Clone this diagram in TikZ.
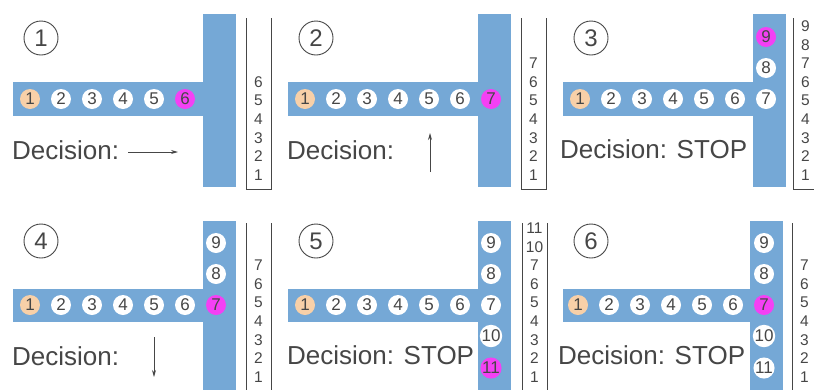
\documentclass[tikz,border=0pt]{standalone}
\usepackage{fontspec}
\setmainfont{Liberation Sans}
\usepackage{tikz}
\usetikzlibrary{arrows.meta}

\definecolor{barblue}{RGB}{117,168,214}
\definecolor{startpeach}{RGB}{248,208,168}
\definecolor{curmagenta}{RGB}{244,64,244}
\definecolor{txtgray}{RGB}{70,70,70}

\begin{document}
\begin{tikzpicture}[x=1pt, y=-1pt,
  ball/.style={circle, fill=white, minimum size=20pt, inner sep=0pt, text=txtgray, font=\fontsize{17}{17}\selectfont},
  start/.style={ball, fill=startpeach},
  current/.style={ball, fill=curmagenta},
  tag/.style={circle, draw=txtgray, line width=0.9pt, minimum size=34pt, inner sep=0pt, text=txtgray, font=\fontsize{24}{24}\selectfont},
  decision/.style={anchor=base west, inner sep=0pt, text=txtgray, font=\fontsize{26}{26}\selectfont},
  stacknum/.style={inner sep=0pt, text=txtgray, font=\fontsize{15.5}{15.5}\selectfont},
  stackline/.style={draw=txtgray, line width=1pt},
  move/.style={-{Stealth[length=7pt,width=4pt]}, draw=txtgray, line width=0.8pt}]
\clip (0,0) rectangle (814,389);

% panel 1
\begin{scope}[name prefix=p1-]
\fill[barblue] (13,82) rectangle (203,116);
\fill[barblue] (203,14) rectangle (236,187);
\node[tag] (tag) at (41,38) {1};
\node[start] (b1) at (30,99) {1};
\foreach \i in {2,...,5}
  \node[ball] (b\i) at ({30+31*(\i-1)},99) {\i};
\node[current] (b6) at (185,99) {6};
\node[decision] (dec) at (12,159) {Decision:};
\coordinate (mfrom) at (128,152);
\coordinate (mto) at (178,152);
\draw[move] (mfrom) -- (mto);
\draw[stackline] (246,18) -- (246,189) -- (271,189) -- (271,18);
\foreach \n in {1,...,6}
  \node[stacknum] (s\n) at (258.5,{175-18.6*(\n-1)}) {\n};
\end{scope}

% panel 2
\begin{scope}[shift={(275,0)}, name prefix=p2-]
\fill[barblue] (13,82) rectangle (203,116);
\fill[barblue] (203,14) rectangle (236,187);
\node[tag] (tag) at (41,38) {2};
\node[start] (b1) at (30,99) {1};
\foreach \i in {2,...,6}
  \node[ball] (b\i) at ({30+31*(\i-1)},99) {\i};
\node[current] (b7) at (216,99) {7};
\node[decision] (dec) at (12,159) {Decision:};
\coordinate (mfrom) at (155,172);
\coordinate (mto) at (155,133);
\draw[move] (mfrom) -- (mto);
\draw[stackline] (246,18) -- (246,189) -- (271,189) -- (271,18);
\foreach \n in {1,...,7}
  \node[stacknum] (s\n) at (258.5,{175-18.6*(\n-1)}) {\n};
\end{scope}

% panel 3
\begin{scope}[shift={(550,0)}, name prefix=p3-]
\fill[barblue] (13,82) rectangle (203,116);
\fill[barblue] (203,14) rectangle (236,187);
\node[tag] (tag) at (41,38) {3};
\node[start] (b1) at (30,99) {1};
\foreach \i in {2,...,7}
  \node[ball] (b\i) at ({30+31*(\i-1)},99) {\i};
\node[ball] (b8) at (216,68) {8};
\node[current] (b9) at (216,37) {9};
\node[decision] (dec) at (10,158) {Decision: STOP};
\draw[stackline] (243,18) -- (243,189) -- (268,189) -- (268,18);
\foreach \n in {1,...,9}
  \node[stacknum] (s\n) at (255.5,{175-18.6*(\n-1)}) {\n};
\end{scope}

% panel 4
\begin{scope}[shift={(0,205)}, name prefix=p4-]
\fill[barblue] (13,84) rectangle (203,117);
\fill[barblue] (203,16) rectangle (236,200);
\node[tag] (tag) at (41,36) {4};
\node[start] (b1) at (30,100) {1};
\foreach \i in {2,...,6}
  \node[ball] (b\i) at ({30+31*(\i-1)},100) {\i};
\node[current] (b7) at (216,100) {7};
\node[ball] (b8) at (216,69) {8};
\node[ball] (b9) at (216,38) {9};
\node[decision] (dec) at (12,160) {Decision:};
\coordinate (mfrom) at (154,132);
\coordinate (mto) at (154,172);
\draw[move] (mfrom) -- (mto);
\draw[stackline] (246,18) -- (246,200);
\draw[stackline] (271,18) -- (271,200);
\foreach \n in {1,...,7}
  \node[stacknum] (s\n) at (258.5,{172-18.6*(\n-1)}) {\n};
\end{scope}

% panel 5
\begin{scope}[shift={(275,205)}, name prefix=p5-]
\fill[barblue] (13,84) rectangle (203,117);
\fill[barblue] (203,16) rectangle (236,200);
\node[tag] (tag) at (41,36) {5};
\node[start] (b1) at (30,100) {1};
\foreach \i in {2,...,7}
  \node[ball] (b\i) at ({30+31*(\i-1)},100) {\i};
\node[ball] (b8) at (216,69) {8};
\node[ball] (b9) at (216,38) {9};
\node[ball] (b10) at (216,131) {10};
\node[current] (b11) at (216,163) {11};
\node[decision] (dec) at (12,159) {Decision: STOP};
\draw[stackline] (247,18) -- (247,200);
\draw[stackline] (272,18) -- (272,200);
\foreach \n [count=\k] in {1,...,7,10,11}
  \node[stacknum] (s\n) at (259.5,{172-18.6*(\k-1)}) {\n};
\end{scope}

% panel 6
\begin{scope}[shift={(550,205)}, name prefix=p6-]
\fill[barblue] (13,84) rectangle (200,117);
\fill[barblue] (200,16) rectangle (233,200);
\node[tag] (tag) at (41,36) {6};
\node[start] (b1) at (28,100) {1};
\foreach \i in {2,...,6}
  \node[ball] (b\i) at ({28+31*(\i-1)},100) {\i};
\node[current] (b7) at (214,100) {7};
\node[ball] (b8) at (214,69) {8};
\node[ball] (b9) at (214,38) {9};
\node[ball] (b10) at (214,131) {10};
\node[ball] (b11) at (214,163) {11};
\node[decision] (dec) at (8,159) {Decision: STOP};
\draw[stackline] (242,18) -- (242,200);
\foreach \n in {1,...,7}
  \node[stacknum] (s\n) at (254.5,{172-18.6*(\n-1)}) {\n};
\end{scope}
\end{tikzpicture}
\end{document}
